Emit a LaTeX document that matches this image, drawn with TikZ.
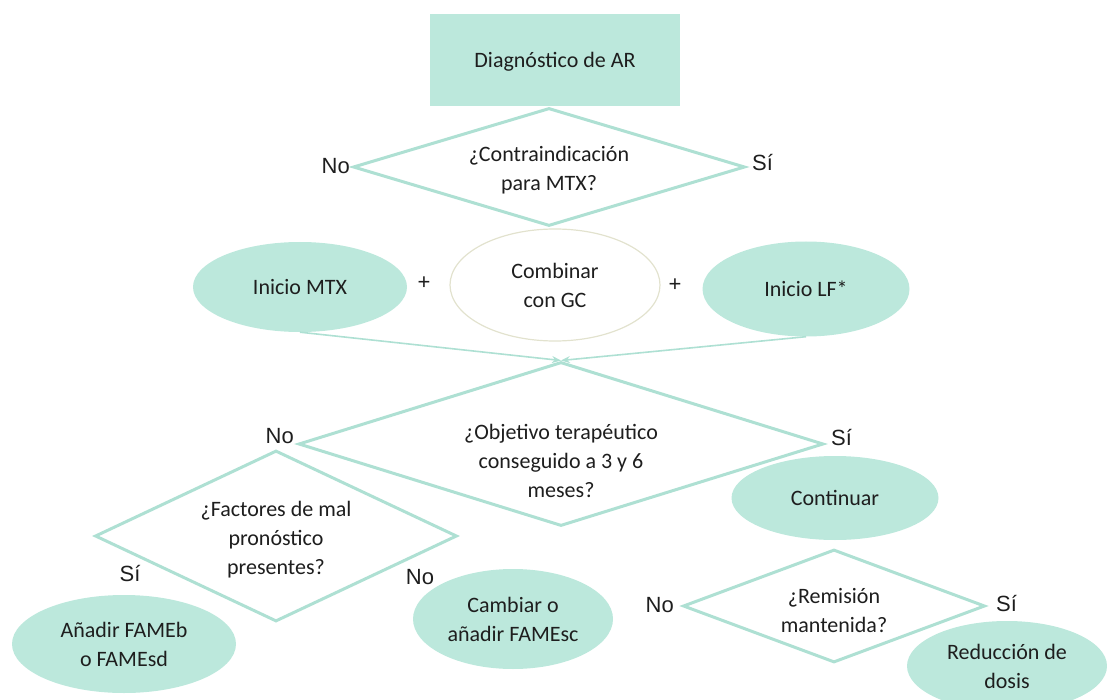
\documentclass[tikz,border=0pt]{standalone}
\usepackage{fontspec}
\setmainfont{Carlito}
\newfontfamily\arialf{Liberation Sans}
\usetikzlibrary{shapes.geometric,arrows.meta}
\definecolor{tfill}{HTML}{BCE8DC}
\definecolor{tline}{HTML}{AEE0D3}
\definecolor{beige}{HTML}{E2E2CE}
\definecolor{ink}{HTML}{1E1E1E}
\tikzset{
  txt/.style={font=\fontsize{22}{29}\selectfont, text=ink, align=center},
  yn/.style={font=\arialf\fontsize{22}{24}\selectfont, text=ink, inner sep=0pt},
  oval/.style={ellipse, fill=tfill, draw=none, inner sep=0pt, txt},
  dia/.style={diamond, draw=tline, line width=3pt, inner sep=0pt, fill=white},
  conn/.style={draw=tline, line width=1.6pt, -{Stealth[length=9pt,width=7pt]}},
}
\begin{document}
\begin{tikzpicture}[x=1pt,y=-1pt]
\useasboundingbox (0,0) rectangle (1107,700);
\clip (0,0) rectangle (1107,700);

% top box
\node[fill=tfill, minimum width=250pt, minimum height=92pt, inner sep=0pt] (diag) at (555,60) {};
\node[txt] (diagtxt) at (555,62) {Diagnóstico de AR};

% diamond 1
\node[dia, minimum width=392pt, minimum height=118pt, label={[txt, yshift=-3pt]center:¿Contraindicación\\para MTX?}] (d1) at (549,167) {};
\node[yn, anchor=east] (no1) at (350,166) {No};
\node[yn, anchor=west] (si1) at (752,163) {Sí};

% row of ovals
\node[oval, minimum width=214pt, minimum height=90pt] (mtx) at (300,287) {Inicio MTX};
\node[yn] (plus1) at (424,283) {+};
\node[ellipse, draw=beige, line width=1.2pt, minimum width=210pt, minimum height=112pt, inner sep=0pt, txt] (gc) at (555,285) {Combinar\\con GC};
\node[yn] (plus2) at (675,285) {+};
\node[oval, minimum width=207pt, minimum height=95pt] (lf) at (806,289) {Inicio LF*};

% diamond 2
\node[dia, minimum width=525pt, minimum height=164pt, label={[txt, yshift=-17pt]center:¿Objetivo terapéutico\\conseguido a 3 y 6\\meses?}] (d2) at (561,444) {};
\draw[conn] (mtx.south) -- (d2.north);
\draw[conn] (lf.south) -- (d2.north);
\node[yn, anchor=east] (no2) at (294,436) {No};
\node[yn, anchor=west] (si2) at (831,438) {Sí};

% Continuar
\node[oval, minimum width=207pt, minimum height=84pt] (cont) at (835,498) {Continuar};

% diamond 3
\node[dia, minimum width=362pt, minimum height=171pt, label={[txt, yshift=-4pt]center:¿Factores de mal\\pronóstico\\presentes?}] (d3) at (276,536) {};
\node[yn] (si3) at (130,574) {Sí};
\node[yn] (no3) at (420,577) {No};

% bottom ovals
\node[oval, minimum width=224pt, minimum height=98pt] (fameb) at (124,644) {Añadir FAMEb\\o FAMEsd};
\node[oval, minimum width=200pt, minimum height=100pt] (famesc) at (513,619) {Cambiar o\\añadir FAMEsc};

% diamond 4
\node[dia, minimum width=302pt, minimum height=113pt, label={[txt, yshift=-5pt]center:¿Remisión\\mantenida?}] (d4) at (834,606) {};
\node[yn, anchor=east] (no4) at (674,605) {No};
\node[yn, anchor=west] (si4) at (996,604) {Sí};

\node[oval, minimum width=200pt, minimum height=90pt] (red) at (1007,666) {Reducción de\\dosis};
\end{tikzpicture}
\end{document}
